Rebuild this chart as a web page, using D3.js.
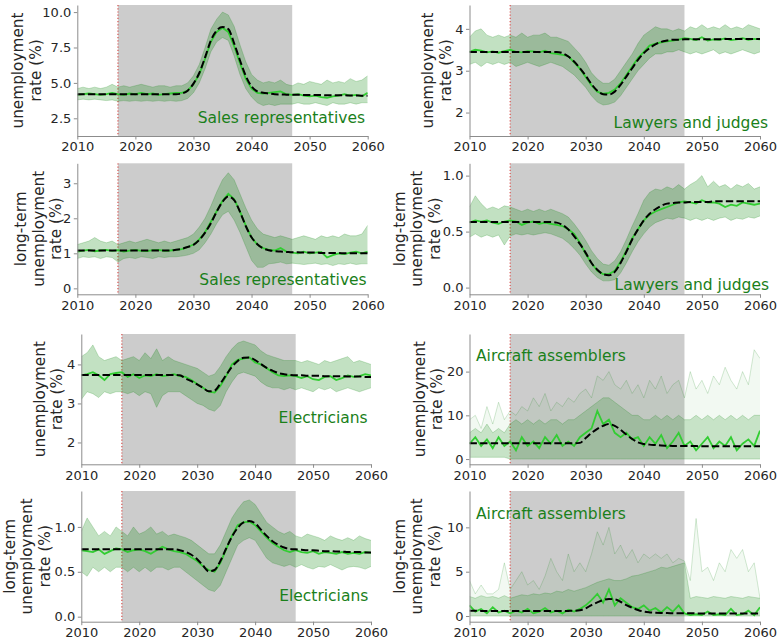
<!DOCTYPE html>
<html>
<head>
<meta charset="utf-8">
<script src="https://cdn.jsdelivr.net/npm/d3@7"></script>
<style>
  body { margin: 0; background: #fff; }
  text { font-family: "DejaVu Sans", sans-serif; }
</style>
</head>
<body>
<svg id="chart" width="781" height="643"></svg>
<script>
// ---- data (one value per year) ----
const years = [
  2010,2011,2012,2013,2014,2015,2016,2017,2018,2019,
  2020,2021,2022,2023,2024,2025,2026,2027,2028,2029,
  2030,2031,2032,2033,2034,2035,2036,2037,2038,2039,
  2040,2041,2042,2043,2044,2045,2046,2047,2048,2049,
  2050,2051,2052,2053,2054,2055,2056,2057,2058,2059,2060];
const xTicks = [2010, 2020, 2030, 2040, 2050, 2060];
const shockStart = 2017;
const shockEnd = 2047;

// Sales representatives - unemployment rate
const salesMean = [
  4.2,4.2,4.2,4.2,4.2,4.2,4.2,4.2,4.2,4.2,
  4.2,4.2,4.2,4.2,4.2,4.2,4.2,4.2,4.25,4.45,
  4.95,5.7,6.8,8.0,8.7,8.95,8.8,7.8,6.6,5.5,
  4.75,4.4,4.3,4.25,4.2,4.18,4.17,4.16,4.16,4.15,
  4.15,4.14,4.14,4.13,4.13,4.12,4.12,4.11,4.11,4.1,4.1];
const salesHi = [
  4.6,4.7,4.6,4.7,4.6,4.7,4.9,4.7,4.8,4.7,
  4.8,4.9,4.8,4.7,4.8,4.8,4.7,4.8,4.8,5.0,
  5.5,6.3,7.5,8.8,9.5,10.0,9.8,9.0,7.7,6.5,
  5.6,5.2,5.0,5.1,5.0,5.2,4.9,4.8,5.0,4.9,
  5.1,5.0,4.9,5.2,5.0,5.1,5.0,5.3,5.1,5.2,5.5];
const salesLo = [
  3.8,3.85,3.8,3.85,3.8,3.75,3.8,3.7,3.75,3.7,
  3.75,3.7,3.75,3.7,3.75,3.7,3.75,3.7,3.75,3.9,
  4.3,5.0,6.0,7.2,7.9,8.2,8.0,6.9,5.6,4.6,
  4.0,3.6,3.4,3.5,3.4,3.5,3.5,3.5,3.6,3.5,
  3.5,3.6,3.5,3.4,3.6,3.5,3.5,3.6,3.5,3.6,3.6];
const salesSim = [
  4.15,4.2,4.25,4.2,4.15,4.2,4.3,4.2,4.15,4.25,
  4.2,4.3,4.2,4.25,4.15,4.2,4.25,4.3,4.3,4.45,
  4.9,5.6,6.7,7.9,8.6,8.9,8.6,7.6,6.4,5.3,
  4.6,4.3,4.25,4.3,4.35,4.4,4.2,4.15,4.2,4.1,
  4.05,4.1,4.0,3.95,4.05,4.1,4.2,4.1,4.15,4.05,4.3];

// Lawyers and judges - unemployment rate
const lawyersMean = [
  3.45,3.45,3.45,3.45,3.45,3.45,3.45,3.45,3.45,3.45,
  3.45,3.45,3.45,3.45,3.45,3.45,3.42,3.34,3.22,3.06,
  2.88,2.68,2.52,2.44,2.43,2.5,2.66,2.86,3.06,3.26,
  3.42,3.54,3.63,3.69,3.72,3.74,3.74,3.75,3.75,3.75,
  3.75,3.75,3.75,3.75,3.76,3.76,3.76,3.76,3.76,3.76,3.76];
const lawyersHi = [
  3.8,3.95,4.0,3.85,3.8,3.85,3.8,3.85,3.8,3.9,
  3.8,3.85,3.85,3.9,3.8,3.8,3.75,3.7,3.55,3.4,
  3.2,2.95,2.8,2.7,2.7,2.8,3.0,3.2,3.4,3.65,
  3.85,3.95,4.05,4.0,4.0,3.95,4.0,3.95,4.05,4.0,
  4.1,4.0,4.05,4.0,4.1,4.0,4.05,4.0,4.1,4.05,4.0];
const lawyersLo = [
  3.15,3.2,3.1,3.2,3.15,3.2,3.15,3.2,3.1,3.15,
  3.2,3.15,3.1,3.15,3.2,3.15,3.1,3.0,2.9,2.75,
  2.6,2.4,2.25,2.18,2.2,2.25,2.4,2.6,2.8,3.0,
  3.15,3.3,3.4,3.4,3.45,3.45,3.5,3.45,3.4,3.45,
  3.4,3.45,3.5,3.4,3.45,3.4,3.45,3.5,3.45,3.4,3.45];
const lawyersSim = [
  3.45,3.5,3.48,3.44,3.46,3.43,3.47,3.5,3.45,3.44,
  3.47,3.46,3.44,3.48,3.42,3.4,3.38,3.35,3.2,3.05,
  2.85,2.65,2.5,2.45,2.47,2.55,2.7,2.9,3.1,3.3,
  3.45,3.6,3.65,3.68,3.7,3.72,3.74,3.78,3.76,3.73,
  3.8,3.72,3.75,3.74,3.77,3.73,3.75,3.78,3.74,3.76,3.75];

// Sales representatives - long-term unemployment rate
const salesLtMean = [
  1.08,1.08,1.08,1.08,1.08,1.08,1.08,1.08,1.08,1.08,
  1.08,1.08,1.08,1.08,1.08,1.08,1.08,1.1,1.13,1.18,
  1.24,1.38,1.59,1.86,2.19,2.47,2.62,2.52,2.19,1.78,
  1.46,1.26,1.14,1.09,1.06,1.05,1.04,1.03,1.03,1.02,
  1.02,1.02,1.01,1.01,1.01,1.01,1.0,1.0,1.0,1.0,1.0];
const salesLtHi = [
  1.25,1.3,1.35,1.45,1.35,1.3,1.35,1.25,1.3,1.35,
  1.3,1.35,1.4,1.35,1.3,1.35,1.3,1.35,1.4,1.45,
  1.55,1.75,2.0,2.35,2.75,3.1,3.3,3.1,2.7,2.3,
  1.95,1.7,1.55,1.5,1.45,1.5,1.45,1.4,1.45,1.5,
  1.45,1.4,1.5,1.45,1.5,1.45,1.55,1.5,1.5,1.55,1.8];
const salesLtLo = [
  0.85,0.9,0.88,0.9,0.85,0.9,0.88,0.75,0.85,0.88,
  0.85,0.9,0.88,0.85,0.9,0.88,0.9,0.9,0.92,0.95,
  1.0,1.1,1.3,1.55,1.85,2.1,2.2,1.95,1.6,1.2,
  0.8,0.6,0.6,0.7,0.72,0.75,0.7,0.72,0.7,0.68,
  0.7,0.72,0.68,0.7,0.65,0.7,0.68,0.72,0.68,0.7,0.7];
const salesLtSim = [
  1.05,1.08,1.1,1.06,1.08,1.1,1.07,1.09,1.05,1.08,
  1.1,1.07,1.06,1.09,1.1,1.07,1.08,1.1,1.12,1.18,
  1.25,1.4,1.6,1.9,2.2,2.5,2.7,2.55,2.2,1.8,
  1.45,1.25,1.15,1.1,1.08,1.15,1.05,1.02,1.0,1.05,
  1.0,1.02,1.04,0.88,0.95,1.0,0.98,1.02,1.05,1.0,1.05];

// Lawyers and judges - long-term unemployment rate
const lawyersLtMean = [
  0.585,0.585,0.585,0.585,0.585,0.585,0.585,0.585,0.585,0.585,
  0.585,0.585,0.585,0.585,0.585,0.58,0.56,0.52,0.46,0.39,
  0.31,0.22,0.16,0.12,0.11,0.14,0.22,0.32,0.43,0.52,
  0.6,0.66,0.7,0.73,0.75,0.755,0.76,0.76,0.765,0.765,
  0.765,0.765,0.77,0.77,0.77,0.77,0.77,0.77,0.77,0.77,0.77];
const lawyersLtHi = [
  0.72,0.82,0.75,0.7,0.72,0.7,0.73,0.72,0.7,0.68,
  0.7,0.68,0.7,0.68,0.7,0.68,0.66,0.63,0.57,0.5,
  0.42,0.33,0.26,0.21,0.2,0.24,0.32,0.43,0.55,0.66,
  0.78,0.85,0.88,0.87,0.9,0.88,0.92,0.88,0.92,0.95,
  1.0,0.9,0.95,0.9,0.92,0.88,0.92,0.9,0.93,0.88,0.9];
const lawyersLtLo = [
  0.45,0.48,0.45,0.47,0.45,0.47,0.38,0.46,0.48,0.47,
  0.48,0.47,0.48,0.49,0.48,0.46,0.44,0.4,0.35,0.29,
  0.21,0.14,0.09,0.06,0.06,0.07,0.13,0.22,0.32,0.41,
  0.48,0.54,0.58,0.6,0.62,0.61,0.63,0.62,0.6,0.62,
  0.6,0.62,0.6,0.62,0.63,0.6,0.62,0.61,0.63,0.62,0.64];
const lawyersLtSim = [
  0.58,0.6,0.59,0.6,0.58,0.57,0.59,0.6,0.59,0.56,
  0.58,0.59,0.57,0.58,0.57,0.56,0.55,0.52,0.48,0.4,
  0.3,0.22,0.15,0.12,0.12,0.15,0.23,0.33,0.44,0.52,
  0.6,0.65,0.68,0.7,0.72,0.74,0.76,0.77,0.76,0.75,
  0.78,0.76,0.76,0.75,0.72,0.74,0.73,0.76,0.75,0.74,0.75];

// Electricians - unemployment rate
const elecMean = [
  3.73,3.73,3.73,3.73,3.73,3.73,3.73,3.73,3.73,3.73,
  3.73,3.73,3.73,3.73,3.73,3.73,3.73,3.72,3.64,3.57,
  3.49,3.4,3.31,3.33,3.51,3.73,3.94,4.09,4.17,4.18,
  4.11,4.01,3.91,3.84,3.78,3.75,3.73,3.72,3.72,3.71,
  3.71,3.71,3.7,3.7,3.7,3.7,3.69,3.69,3.69,3.68,3.68];
const elecHi = [
  4.2,4.3,4.5,4.2,4.1,4.15,4.2,4.1,4.15,4.2,
  4.1,4.3,4.15,4.4,4.1,4.2,4.1,4.05,4.0,3.95,
  3.9,3.8,3.7,3.75,3.95,4.2,4.4,4.55,4.6,4.55,
  4.5,4.35,4.25,4.2,4.15,4.1,4.1,4.1,4.05,4.1,
  4.05,4.0,4.1,4.05,4.1,4.15,4.2,4.05,4.1,4.05,4.0];
const elecLo = [
  3.1,3.3,3.25,3.15,3.3,3.25,3.3,3.3,3.25,3.3,
  3.2,3.3,3.25,2.9,3.2,3.3,3.3,3.3,3.2,3.1,
  3.0,2.95,2.85,2.8,2.95,3.3,3.55,3.75,3.8,3.75,
  3.7,3.55,3.45,3.4,3.4,3.35,3.4,3.35,3.4,3.35,
  3.3,3.4,3.35,3.4,3.3,3.35,3.4,3.35,3.3,3.35,3.4];
const elecSim = [
  3.72,3.75,3.8,3.72,3.6,3.75,3.78,3.8,3.68,3.75,
  3.65,3.72,3.7,3.75,3.7,3.72,3.75,3.7,3.68,3.6,
  3.5,3.4,3.3,3.28,3.45,3.7,4.0,4.12,4.15,4.18,
  4.05,4.0,3.9,3.8,3.72,3.7,3.72,3.7,3.65,3.7,
  3.62,3.6,3.68,3.7,3.6,3.65,3.72,3.68,3.7,3.75,3.72];

// Aircraft assemblers - unemployment rate
const aircraftMean = [
  3.6,3.6,3.6,3.6,3.6,3.6,3.6,3.6,3.6,3.6,
  3.6,3.6,3.6,3.6,3.6,3.6,3.6,3.6,3.6,3.7,
  4.8,5.95,6.9,7.6,8.0,7.6,6.7,5.6,4.6,3.8,
  3.45,3.3,3.2,3.1,3.05,3.0,3.0,2.98,2.97,2.96,
  2.95,2.95,2.94,2.93,2.92,2.92,2.91,2.9,2.9,2.9,2.9];
const aircraftHi = [
  6,7,6,8,6,7,6,8,9,8,
  9,8,9,8,9,9,8,9,9,10,
  11,12,13,14,14,13,12,11,10,10,
  9,9,10,9,10,9,10,9,9,10,
  9,10,9,10,9,10,9,10,9,10,10];
const aircraftPeak = [
  9,10,7,12,8,13,9,11,10,12,
  11,14,12,15,11,13,12,14,13,15,
  16,14,19,18,20,17,16,18,15,17,
  14,18,16,19,15,17,18,14,20,16,
  18,15,19,17,21,18,16,20,17,25,23];
const aircraftLo = [
  0.4,0.4,0.4,0.4,0.4,0.4,0.4,0,0,0,
  0,0,0,0,0,0,0,0,0,0,
  0,0,0,0,0,0,0,0,0,0,
  0,0,0,0,0,0,0,0,0,0,
  0,0,0,0,0,0,0,0,0,0,0];
const aircraftSim = [
  3.5,5,3,4.5,2.5,5,3,4,2,5,
  3,4,2.5,5,3.5,5.5,3,4,3,5,
  6,7,11,8,9,6,5,6,4.5,5,
  3,5,3.5,5.5,2.5,4,6,3,4,2,
  3.5,5,2.5,4,3,5,2,3.5,4.5,3,6.5];

// Electricians - long-term unemployment rate
const elecLtMean = [
  0.75,0.75,0.75,0.75,0.75,0.75,0.75,0.75,0.75,0.75,
  0.75,0.75,0.75,0.75,0.75,0.75,0.75,0.74,0.72,0.69,
  0.64,0.57,0.505,0.52,0.62,0.76,0.89,0.99,1.05,1.065,
  1.04,0.97,0.9,0.84,0.8,0.77,0.755,0.75,0.745,0.74,
  0.74,0.735,0.73,0.73,0.725,0.725,0.72,0.72,0.72,0.715,0.715];
const elecLtHi = [
  0.95,1.1,1.0,0.9,0.95,0.9,1.0,0.95,0.9,1.0,
  0.92,0.95,1.0,0.92,0.95,0.9,0.92,0.9,0.88,0.85,
  0.8,0.75,0.7,0.7,0.8,0.95,1.1,1.2,1.28,1.3,
  1.25,1.15,1.05,1.0,0.95,0.92,0.95,0.9,0.88,0.92,
  0.9,0.88,0.85,0.9,0.87,0.85,0.88,0.85,0.9,0.87,0.85];
const elecLtLo = [
  0.5,0.45,0.55,0.5,0.55,0.5,0.55,0.55,0.5,0.55,
  0.5,0.55,0.5,0.55,0.55,0.52,0.55,0.55,0.5,0.45,
  0.4,0.35,0.3,0.28,0.35,0.5,0.65,0.8,0.85,0.88,
  0.85,0.75,0.65,0.6,0.58,0.56,0.58,0.55,0.58,0.55,
  0.53,0.56,0.55,0.58,0.55,0.52,0.55,0.56,0.55,0.53,0.56];
const elecLtSim = [
  0.74,0.73,0.72,0.75,0.7,0.73,0.76,0.75,0.72,0.74,
  0.75,0.73,0.7,0.74,0.78,0.75,0.73,0.72,0.7,0.66,
  0.62,0.56,0.52,0.5,0.6,0.75,0.9,1.02,1.05,1.06,
  1.02,0.95,0.88,0.82,0.78,0.74,0.72,0.74,0.72,0.71,
  0.73,0.7,0.72,0.71,0.7,0.72,0.7,0.71,0.7,0.72,0.71];

// Aircraft assemblers - long-term unemployment rate
const aircraftLtMean = [
  0.6,0.6,0.58,0.58,0.57,0.57,0.56,0.56,0.56,0.56,
  0.56,0.56,0.56,0.56,0.56,0.56,0.57,0.58,0.6,0.65,
  0.87,1.24,1.54,1.8,1.92,1.88,1.61,1.24,0.94,0.68,
  0.49,0.41,0.38,0.35,0.33,0.32,0.31,0.3,0.3,0.3,
  0.29,0.29,0.29,0.29,0.28,0.28,0.28,0.28,0.28,0.28,0.28];
const aircraftLtHi = [
  2.2,2.0,2.3,2.1,2.2,2.0,2.3,2.0,2.2,2.4,
  2.3,2.5,2.4,2.6,2.5,2.8,2.7,3.0,2.8,3.0,
  3.2,3.5,3.8,4.0,4.2,4.0,4.0,4.2,4.5,4.6,
  4.8,5.0,5.2,5.5,5.4,5.6,5.8,6.0,2.0,2.2,
  2.1,2.0,2.2,2.1,2.0,2.2,2.1,2.0,2.2,2.1,2.0];
const aircraftLtPeak = [
  4,2.5,3.5,2.5,2.5,3,6,3,4,5,
  3.5,4,3,4.5,6.5,5,4,7,5,6,
  5,7,9.5,8,10,7,8,6.5,7.5,6,
  7,6.5,7,6.5,7,6,6.5,6.2,4,11,
  5,5.5,4,6,5,7.5,6.5,7.5,5,6,2];
const aircraftLtLo = [
  0,0,0,0,0,0,0,0,0,0,
  0,0,0,0,0,0,0,0,0,0,
  0,0,0,0,0,0,0,0,0,0,
  0,0,0,0,0,0,0,0,0,0,
  0,0,0,0,0,0,0,0,0,0,0];
const aircraftLtSim = [
  1.2,0.5,0.8,0.3,1.0,0.4,0.6,0.3,0.6,0.4,
  0.8,0.3,0.5,0.9,0.4,0.6,0.3,0.7,0.5,0.8,
  1.2,1.8,2.5,1.5,3.0,1.2,2.0,1.5,1.0,0.8,
  1.2,0.6,0.9,0.4,1.0,0.5,1.2,0.3,0.1,0.2,
  0.1,0.5,0.1,0.2,0.1,0.8,0.1,0.2,0.6,0.1,1.0];

// ---- panel table ----
const labelShort = ['unemployment', 'rate (%)'];
const labelLong = ['long-term', 'unemployment', 'rate (%)'];

const panels = [
  {name: 'Sales representatives', ylabel: labelShort, mean: salesMean, hi: salesHi, lo: salesLo, sim: salesSim,
   yDomain: [1.25, 10.5], yTicks: [2.5, 5, 7.5, 10], fmt: '.1f',
   box: [77.3, 367.7, 5, 136], labelX: 23, note: [365, 123.3, 'end']},
  {name: 'Lawyers and judges', ylabel: labelShort, mean: lawyersMean, hi: lawyersHi, lo: lawyersLo, sim: lawyersSim,
   yDomain: [1.44, 4.57], yTicks: [2, 3, 4], fmt: 'd',
   box: [469.5, 760, 5, 136], labelX: 433, note: [768, 128.3, 'end']},
  {name: 'Sales representatives', ylabel: labelLong, mean: salesLtMean, hi: salesLtHi, lo: salesLtLo, sim: salesLtSim,
   yDomain: [-0.17, 3.57], yTicks: [0, 1, 2, 3], fmt: 'd',
   box: [77.3, 367.7, 163.3, 294.3], labelX: 26, note: [366.7, 285, 'end']},
  {name: 'Lawyers and judges', ylabel: labelLong, mean: lawyersLtMean, hi: lawyersLtHi, lo: lawyersLtLo, sim: lawyersLtSim,
   yDomain: [-0.06, 1.11], yTicks: [0, 0.5, 1], fmt: '.1f',
   box: [469.5, 760, 163.3, 294.3], labelX: 404.5, note: [769, 290, 'end']},
  {name: 'Electricians', ylabel: labelShort, mean: elecMean, hi: elecHi, lo: elecLo, sim: elecSim,
   yDomain: [1.44, 4.78], yTicks: [2, 3, 4], fmt: 'd',
   box: [81.3, 371, 334, 464.3], labelX: 44.5, note: [367.7, 423.3, 'end']},
  {name: 'Aircraft assemblers', ylabel: labelShort, mean: aircraftMean, hi: aircraftHi, lo: aircraftLo, sim: aircraftSim, peak: aircraftPeak,
   yDomain: [-1.2, 28.6], yTicks: [0, 10, 20], fmt: 'd',
   box: [469.5, 760, 334, 464.3], labelX: 424.5, note: [476, 360.7, 'start']},
  {name: 'Electricians', ylabel: labelLong, mean: elecLtMean, hi: elecLtHi, lo: elecLtLo, sim: elecLtSim,
   yDomain: [-0.056, 1.4], yTicks: [0, 0.5, 1], fmt: '.1f',
   box: [81.3, 371, 491, 621.7], labelX: 14.5, note: [368.3, 601, 'end']},
  {name: 'Aircraft assemblers', ylabel: labelLong, mean: aircraftLtMean, hi: aircraftLtHi, lo: aircraftLtLo, sim: aircraftLtSim, peak: aircraftLtPeak,
   yDomain: [-0.64, 14.1], yTicks: [0, 5, 10], fmt: 'd',
   box: [469.5, 760, 491, 621.7], labelX: 404.5, note: [476, 519.3, 'start']}
];

const svg = d3.select('#chart');
const spineColor = '#8c8c8c';
const tickText = '#262626';

panels.forEach((p, i) => {
  const [x0, x1, y0, y1] = p.box;
  const x = d3.scaleLinear().domain([2010, 2060]).range([x0, x1]);
  const y = d3.scaleLinear().domain(p.yDomain).range([y1, y0]);

  const rows = years.map((yr, j) => ({
    year: yr, mean: p.mean[j], hi: p.hi[j], lo: p.lo[j], sim: p.sim[j],
    peak: p.peak ? p.peak[j] : null
  }));

  const g = svg.append('g').attr('class', 'panel');

  g.append('clipPath').attr('id', 'clip' + i)
    .append('rect')
    .attr('x', x0).attr('y', y0)
    .attr('width', x1 - x0).attr('height', y1 - y0);

  // shock period
  g.append('rect')
    .attr('x', x(shockStart)).attr('y', y0)
    .attr('width', x(shockEnd) - x(shockStart))
    .attr('height', y1 - y0)
    .attr('fill', '#cccccc');

  const plot = g.append('g').attr('clip-path', `url(#clip${i})`);

  // start of shock
  plot.append('line')
    .attr('x1', x(shockStart)).attr('x2', x(shockStart))
    .attr('y1', y0).attr('y2', y1)
    .attr('stroke', '#d9534f')
    .attr('stroke-width', 1.2)
    .attr('stroke-dasharray', '1.2,2');

  // spikes of single simulations (aircraft only)
  if (p.peak) {
    plot.append('path')
      .datum(rows)
      .attr('fill', 'green')
      .attr('fill-opacity', 0.05)
      .attr('d', d3.area().x(d => x(d.year)).y0(d => y(d.hi)).y1(d => y(d.peak)));
    plot.append('path')
      .datum(rows)
      .attr('fill', 'none')
      .attr('stroke', 'green')
      .attr('stroke-opacity', 0.22)
      .attr('stroke-width', 0.8)
      .attr('d', d3.line().x(d => x(d.year)).y(d => y(d.peak)));
  }

  // envelope of the simulations
  plot.append('path')
    .datum(rows)
    .attr('fill', 'green')
    .attr('fill-opacity', p.peak ? 0.22 : 0.24)
    .attr('d', d3.area().x(d => x(d.year)).y0(d => y(d.lo)).y1(d => y(d.hi)));

  ['hi', 'lo'].forEach(k => {
    plot.append('path')
      .datum(rows)
      .attr('fill', 'none')
      .attr('stroke', 'green')
      .attr('stroke-opacity', 0.25)
      .attr('stroke-width', 0.8)
      .attr('d', d3.line().x(d => x(d.year)).y(d => y(d[k])));
  });

  // one highlighted simulation
  plot.append('path')
    .datum(rows)
    .attr('fill', 'none')
    .attr('stroke', '#32cd32')
    .attr('stroke-width', 1.8)
    .attr('d', d3.line().x(d => x(d.year)).y(d => y(d.sim)));

  // mean
  plot.append('path')
    .datum(rows)
    .attr('fill', 'none')
    .attr('stroke', '#000')
    .attr('stroke-width', 2)
    .attr('stroke-dasharray', '7.4,3.2')
    .attr('d', d3.line().curve(d3.curveMonotoneX).x(d => x(d.year)).y(d => y(d.mean)));

  // axes (only left and bottom spines)
  const xAxisG = g.append('g')
    .attr('transform', `translate(0,${y1})`)
    .call(d3.axisBottom(x).tickValues(xTicks).tickFormat(d3.format('d'))
      .tickSize(3.5).tickSizeOuter(0).tickPadding(2.5));
  const yAxisG = g.append('g')
    .attr('transform', `translate(${x0},0)`)
    .call(d3.axisLeft(y).tickValues(p.yTicks).tickFormat(d3.format(p.fmt))
      .tickSize(3.5).tickSizeOuter(0).tickPadding(2.5));

  [xAxisG, yAxisG].forEach(a => {
    a.select('.domain').attr('stroke', spineColor);
    a.selectAll('.tick line').attr('stroke', spineColor);
    a.selectAll('.tick text')
      .attr('fill', tickText)
      .style('font-size', '13px')
      .style('font-family', '"DejaVu Sans", sans-serif');
  });

  // y label, labelX is the baseline of the first line
  const cy = (y0 + y1) / 2;
  const lab = g.append('text')
    .attr('transform', `translate(${p.labelX},${cy}) rotate(-90)`)
    .attr('text-anchor', 'middle')
    .attr('fill', tickText)
    .style('font-size', '15.3px');
  p.ylabel.forEach((t, k) => {
    lab.append('tspan').attr('x', 0).attr('y', k * 17.5).text(t);
  });

  // occupation name
  g.append('text')
    .attr('x', p.note[0]).attr('y', p.note[1])
    .attr('text-anchor', p.note[2])
    .attr('fill', '#1a801a')
    .style('font-size', '15.5px')
    .text(p.name);
});
</script>
</body>
</html>
